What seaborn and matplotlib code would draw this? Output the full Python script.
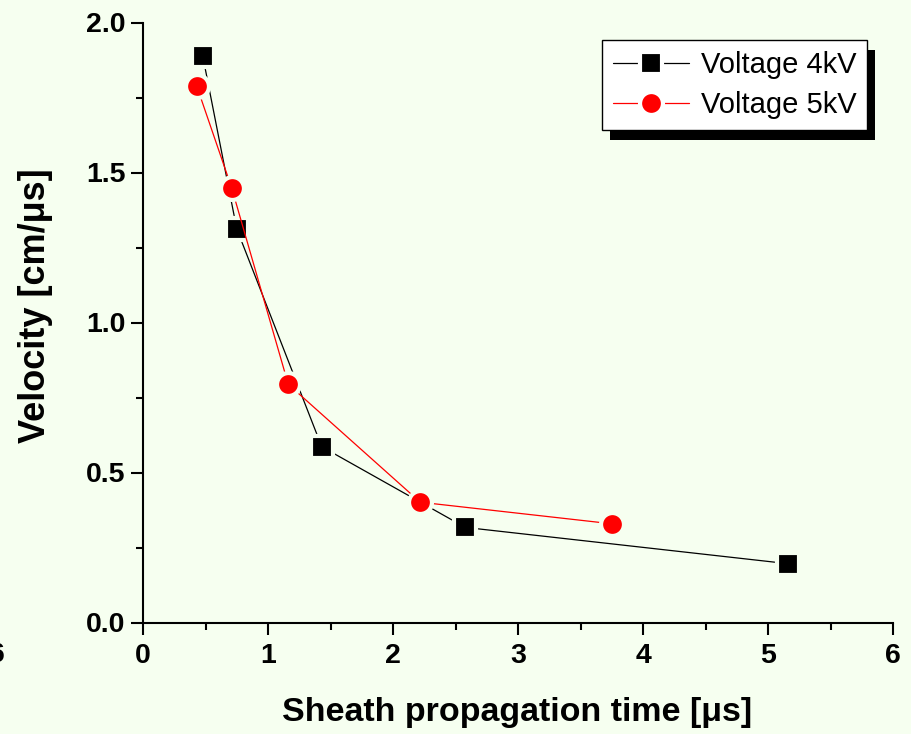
import matplotlib
matplotlib.use("Agg")
import matplotlib.pyplot as plt
import seaborn as sns
import pandas as pd
from matplotlib.lines import Line2D
from matplotlib.patches import Rectangle
from matplotlib.ticker import MultipleLocator, FormatStrFormatter

# ---- data ----
t_4kv = [0.478, 0.75, 1.43, 2.578, 5.162]
v_4kv = [1.888, 1.312, 0.586, 0.317, 0.196]
t_5kv = [0.43, 0.71, 1.162, 2.218, 3.752]
v_5kv = [1.788, 1.448, 0.794, 0.401, 0.329]
series_labels = ["Voltage 4kV", "Voltage 5kV"]
xlabel = "Sheath propagation time [\u03bcs]"
ylabel = "Velocity [cm/\u03bcs]"

BG = "#F6FFF0"

sns.set_style("ticks")
plt.rcParams["font.family"] = ["Liberation Sans", "DejaVu Sans"]
plt.rcParams["text.color"] = "black"
plt.rcParams["axes.labelcolor"] = "black"

fig = plt.figure(figsize=(9.11, 7.34), dpi=100, facecolor=BG)
ax = fig.add_axes([143 / 911, 1 - 622.5 / 734, 750 / 911, 600 / 734])
ax.set_facecolor(BG)

df4 = pd.DataFrame({"t": t_4kv, "v": v_4kv})
df5 = pd.DataFrame({"t": t_5kv, "v": v_5kv})

sns.lineplot(data=df4, x="t", y="v", ax=ax, color="black", lw=0.9,
             marker="s", markersize=15.5, markerfacecolor="black",
             markeredgecolor=BG, markeredgewidth=3, sort=False,
             estimator=None, legend=False)
sns.lineplot(data=df5, x="t", y="v", ax=ax, color="red", lw=0.9,
             marker="o", markersize=16.5, markerfacecolor="red",
             markeredgecolor=BG, markeredgewidth=3, sort=False,
             estimator=None, legend=False)

ax.set_xlim(0, 6)
ax.set_ylim(0, 2.0)
ax.xaxis.set_major_locator(MultipleLocator(1))
ax.xaxis.set_minor_locator(MultipleLocator(0.5))
ax.yaxis.set_major_locator(MultipleLocator(0.5))
ax.yaxis.set_minor_locator(MultipleLocator(0.25))
ax.xaxis.set_major_formatter(FormatStrFormatter("%d"))
ax.yaxis.set_major_formatter(FormatStrFormatter("%.1f"))

for s in ["top", "right"]:
    ax.spines[s].set_visible(False)
for s in ["left", "bottom"]:
    ax.spines[s].set_linewidth(1.5)
    ax.spines[s].set_color("black")

ax.tick_params(which="major", direction="out", length=8.5, width=1.5,
               color="black", labelsize=20.5, labelcolor="black")
ax.tick_params(which="minor", direction="out", length=5, width=1.5, color="black")
ax.tick_params(axis="x", which="major", pad=6)
ax.tick_params(axis="y", which="major", pad=4)
for lbl in ax.get_xticklabels() + ax.get_yticklabels():
    lbl.set_fontweight("bold")

ax.set_xlabel(xlabel, fontsize=24.5, fontweight="bold", color="black")
ax.set_ylabel(ylabel, fontsize=26, fontweight="bold", color="black")
ax.xaxis.label.set_va("center")
ax.yaxis.label.set_va("center")
ax.xaxis.set_label_coords((517.5 - 143) / 750, (622.5 - 712) / 600)
ax.yaxis.set_label_coords((35 - 143) / 750, (622.5 - 305.5) / 600)

# cut-off tick label of a neighbouring panel at the far left
fig.text(5 / 911, 1 - 655 / 734, "6", ha="right", va="center",
         fontsize=20.5, fontweight="bold")

handles = [
    Line2D([], [], color="black", lw=0.9, marker="s", markersize=15.5,
           markerfacecolor="black", markeredgecolor="white", markeredgewidth=3),
    Line2D([], [], color="red", lw=0.9, marker="o", markersize=16.5,
           markerfacecolor="red", markeredgecolor="white", markeredgewidth=3),
]
leg = ax.legend(handles, series_labels, loc="upper left",
                bbox_to_anchor=(602 / 911, 1 - 40 / 734),
                bbox_transform=fig.transFigure, borderaxespad=0,
                fontsize=21, frameon=True, fancybox=False, framealpha=1,
                edgecolor="black", facecolor="white", handlelength=2.6,
                handletextpad=0.4, labelspacing=0.4, borderpad=0.38)
leg.get_frame().set_linewidth(1.0)
leg.set_zorder(5)

fig.canvas.draw()
bb = leg.get_window_extent()
inv = ax.transAxes.inverted()
(x0, y0) = inv.transform((bb.x0 + 8, bb.y0 - 10))
(x1, y1) = inv.transform((bb.x1 + 8, bb.y1 - 10))
shadow = Rectangle((x0, y0), x1 - x0, y1 - y0, transform=ax.transAxes,
                   facecolor="black", edgecolor="none", clip_on=False, zorder=4.9)
ax.add_patch(shadow)

fig.savefig("out.png", dpi=100, facecolor=BG)
